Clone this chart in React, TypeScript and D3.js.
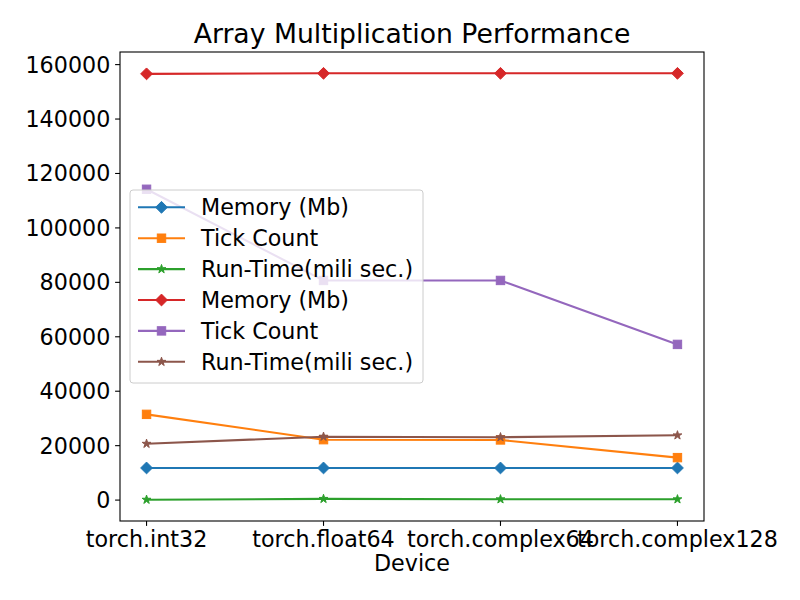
import React from "react";
import * as d3 from "d3";

const categories = ["torch.int32", "torch.float64", "torch.complex64", "torch.complex128"];
const memory1 = [11800, 11800, 11800, 11800];
const ticks1 = [31500, 22200, 22100, 15600];
const runtime1 = [150, 450, 300, 300];
const memory2 = [156600, 156800, 156800, 156800];
const ticks2 = [114200, 80700, 80700, 57200];
const runtime2 = [20700, 23300, 23100, 23800];
const yTicks = [0, 20000, 40000, 60000, 80000, 100000, 120000, 140000, 160000];
const seriesNames = ["Memory (Mb)", "Tick Count", "Run-Time(mili sec.)", "Memory (Mb)", "Tick Count", "Run-Time(mili sec.)"];
const seriesColors = ["#1f77b4", "#ff7f0e", "#2ca02c", "#d62728", "#9467bd", "#8c564b"];
const seriesMarkers = ["D", "s", "*", "D", "s", "*"];

const W = 800, H = 600;
const L = 120, R = 704, T = 52, B = 521;
const FONT = "DejaVu Sans, sans-serif";
const FS = 22.22;

function Marker({ type, x, y, color }: { type: string; x: number; y: number; color: string }) {
  if (type === "D") {
    const r = 5.9;
    return <path d={`M${x},${y - r}L${x + r},${y}L${x},${y + r}L${x - r},${y}Z`} fill={color} stroke={color} strokeWidth={1} />;
  }
  if (type === "s") {
    const h = 4.2;
    return <rect x={x - h} y={y - h} width={2 * h} height={2 * h} fill={color} stroke={color} strokeWidth={1} />;
  }
  const star = d3.symbol().type(d3.symbolStar).size(24)();
  return <path d={star || ""} transform={`translate(${x},${y})`} fill={color} stroke={color} strokeWidth={1} />;
}

export default function App() {
  const series = [memory1, ticks1, runtime1, memory2, ticks2, runtime2];
  const all = series.flat();
  const mn = d3.min(all)!, mx = d3.max(all)!;
  const pad = (mx - mn) * 0.05;
  const y = d3.scaleLinear().domain([mn - pad, mx + pad]).range([B, T]);
  const x = d3.scaleLinear().domain([-0.15, categories.length - 1 + 0.15]).range([L, R]);
  const line = d3.line<number>().x((_, i) => x(i)).y((d) => y(d));

  const legX = 130, legY = 190, legW = 293, legH = 193;
  const rowH = 30.9;

  return (
    <svg width={W} height={H} style={{ position: "absolute", left: 0, top: 0 }} fontFamily={FONT}>
      <rect x={0} y={0} width={W} height={H} fill="#fff" />
      <text x={(L + R) / 2} y={43} textAnchor="middle" fontSize={26.67} fill="#000">Array Multiplication Performance</text>
      {series.map((s, si) => (
        <g key={si}>
          <path d={line(s) || ""} fill="none" stroke={seriesColors[si]} strokeWidth={2.08} />
          {s.map((v, i) => (
            <Marker key={i} type={seriesMarkers[si]} x={x(i)} y={y(v)} color={seriesColors[si]} />
          ))}
        </g>
      ))}
      <rect x={L} y={T} width={R - L} height={B - T} fill="none" stroke="#000" strokeWidth={1.1} />
      {yTicks.map((t) => (
        <g key={t}>
          <line x1={L - 4.9} x2={L} y1={y(t)} y2={y(t)} stroke="#000" strokeWidth={1.1} />
          <text x={L - 9.7} y={y(t)} dy="0.36em" textAnchor="end" fontSize={FS} fill="#000">{t}</text>
        </g>
      ))}
      {categories.map((c, i) => (
        <g key={c}>
          <line x1={x(i)} x2={x(i)} y1={B} y2={B + 4.9} stroke="#000" strokeWidth={1.1} />
          <text x={x(i)} y={547} textAnchor="middle" fontSize={FS} fill="#000">{c}</text>
        </g>
      ))}
      <text x={(L + R) / 2} y={571} textAnchor="middle" fontSize={FS} fill="#000">Device</text>
      <g>
        <rect x={legX} y={legY} width={legW} height={legH} rx={3} fill="#fff" fillOpacity={0.8} stroke="#ccc" strokeWidth={1} />
        {seriesNames.map((n, i) => {
          const cy = 207.3 + i * rowH;
          return (
            <g key={i}>
              <line x1={138} x2={185} y1={cy} y2={cy} stroke={seriesColors[i]} strokeWidth={2.08} />
              <Marker type={seriesMarkers[i]} x={161.5} y={cy} color={seriesColors[i]} />
              <text x={201} y={cy} dy="0.36em" fontSize={FS} fill="#000">{n}</text>
            </g>
          );
        })}
      </g>
    </svg>
  );
}
